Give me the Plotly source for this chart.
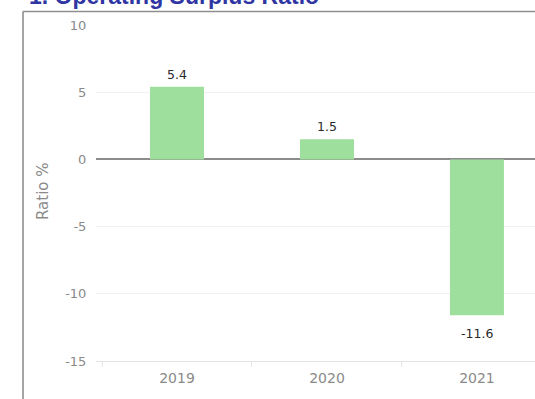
import plotly.graph_objects as go

# Operating surplus ratio by year (%)
years = ["2019", "2020", "2021"]
ratio = [5.4, 1.5, -11.6]
y_ticks = [10, 5, 0, -5, -10, -15]

W, H = 535, 399
M_L, M_R, M_T, M_B = 96, 0, 25, 38
plot_w = W - M_L - M_R
plot_h = H - M_T - M_B


def px_x(p):
    return (p - M_L) / plot_w


def px_y(p):
    return (H - M_B - p) / plot_h


bar_color = "#9fdf9d"
tick_font = dict(family="DejaVu Sans", size=13, color="#8a8a8a")

fig = go.Figure()
fig.add_trace(go.Bar(
    x=years, y=ratio, width=0.36,
    marker=dict(color=bar_color, line=dict(width=0)),
    hoverinfo="skip",
))

# value labels above / below each bar (x given as category index)
for i, v in enumerate(ratio):
    fig.add_annotation(
        x=i, y=v, text=f"{v:.1f}", showarrow=False,
        yanchor="bottom" if v >= 0 else "top",
        yshift=3 if v >= 0 else -9,
        font=dict(family="DejaVu Sans", size=12.5, color="#2a2a2a"),
    )

# section heading
fig.add_annotation(
    xref="paper", yref="paper", x=px_x(27), y=px_y(-4),
    xanchor="left", yanchor="middle", showarrow=False,
    text="<b>1. Operating Surplus Ratio</b>",
    font=dict(family="Liberation Sans", size=23, color="#2f35a3"),
)

# y-axis title
fig.add_annotation(
    xref="paper", yref="paper", x=px_x(43), y=px_y(191),
    xanchor="center", yanchor="middle", showarrow=False, textangle=-90,
    text="Ratio %", font=dict(family="DejaVu Sans", size=15, color="#8a8a8a"),
)

# panel frame (top and left edges)
frame = dict(color="#8f8f8f", width=1.6)
fig.add_shape(type="line", xref="paper", yref="paper",
              x0=px_x(23), x1=px_x(W + 5), y0=px_y(11.5), y1=px_y(11.5), line=frame)
fig.add_shape(type="line", xref="paper", yref="paper",
              x0=px_x(23), x1=px_x(23), y0=px_y(11.5), y1=px_y(H + 5), line=frame)

fig.update_layout(
    width=W, height=H,
    margin=dict(l=M_L, r=M_R, t=M_T, b=M_B, pad=0),
    paper_bgcolor="white", plot_bgcolor="white",
    showlegend=False,
    xaxis=dict(
        type="category", range=[-0.54, 2.387],
        tickfont=dict(family="DejaVu Sans", size=14, color="#8a8a8a"),
        ticks="outside", tickson="boundaries", ticklen=5, tickcolor="#e6e6e6",
        ticklabelstandoff=4,
        showgrid=False, showline=True, linecolor="#e4e4e4", linewidth=1,
        automargin=False,
    ),
    yaxis=dict(
        range=[-15, 10], tickvals=y_ticks,
        ticktext=[str(t) for t in y_ticks],
        tickfont=tick_font,
        ticks="outside", ticklen=6, tickcolor="rgba(0,0,0,0)",
        showgrid=True, gridcolor="#f1f1f1", gridwidth=1,
        zeroline=True, zerolinecolor="#8c8c8c", zerolinewidth=2,
        showline=False, automargin=False,
    ),
)

fig.write_html("out.html")
